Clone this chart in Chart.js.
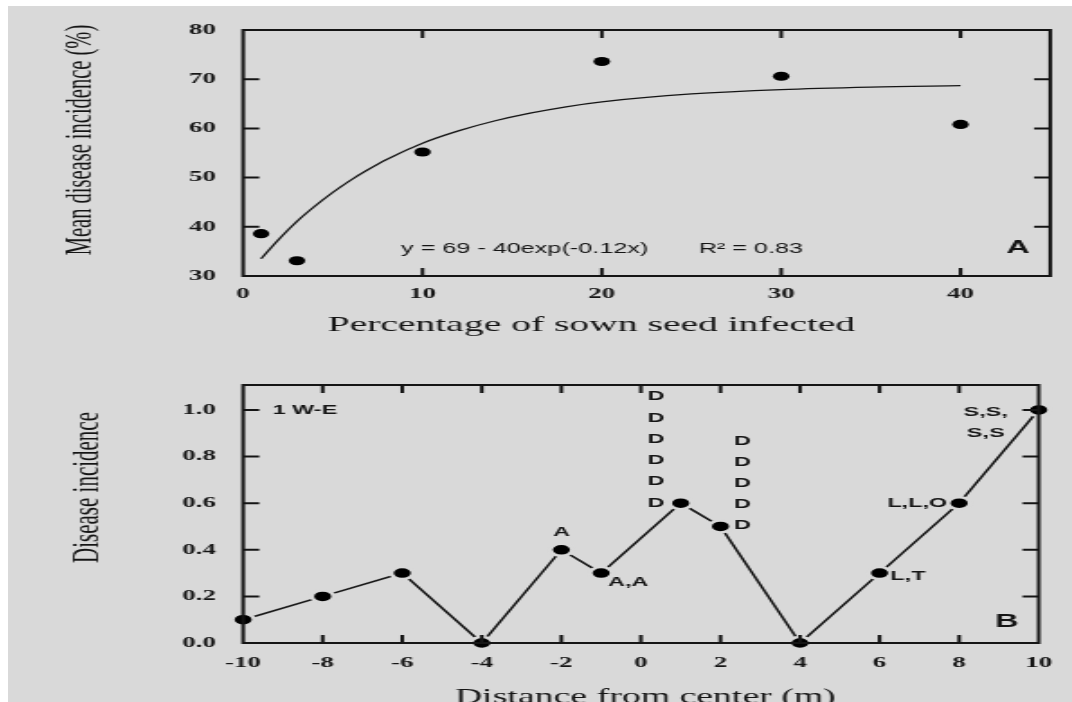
<!DOCTYPE html>
<html>
<head>
<meta charset="utf-8">
<title>Seed infection and disease incidence</title>
<script src="https://cdn.jsdelivr.net/npm/chart.js@4.4.1/dist/chart.umd.min.js"></script>
<style>
  html, body { margin: 0; padding: 0; background: #fff; }
  #sheet { position: absolute; left: 8px; top: 6px; width: 1064px; height: 696px; background: #d9d9d9; overflow: hidden; }
</style>
</head>
<body>
<div id="sheet">
  <!-- the figure is stretched sideways, so the canvases are drawn narrow and widened by css -->
  <canvas id="chartA" width="591" height="344" style="width:1064px;height:344px"></canvas>
  <canvas id="chartB" width="591" height="352" style="width:1064px;height:352px"></canvas>
</div>
<script>
// panel A: percentage of sown seed infected vs mean disease incidence
const seedInfected = [1, 3, 10, 20, 30, 40];
const meanIncidence = [38.6, 33.1, 55.2, 73.6, 70.6, 60.8];
// fitted curve
const fitX = [1, 2, 3, 4, 5, 6, 7, 8, 10, 12, 14, 16, 18, 20, 25, 30, 35, 40];
const fitY = [33.5, 37.5, 41.1, 44.2, 47.0, 49.5, 51.7, 53.7, 57.0, 59.5, 61.5, 63.1, 64.4, 65.4, 67.0, 67.9, 68.4, 68.7];
const ticksAX = [0, 10, 20, 30, 40];
const ticksAY = [30, 40, 50, 60, 70, 80];
const fitLabel = "y = 69 - 40exp(-0.12x)";
const r2Label = "R² = 0.83";

// panel B: disease incidence along transect 1 W-E
const distance = [-10, -8, -6, -4, -2, -1, 1, 2, 4, 6, 8, 10];
const incidence = [0.1, 0.2, 0.3, 0.0, 0.4, 0.3, 0.6, 0.5, 0.0, 0.3, 0.6, 1.0];
const ticksBX = [-10, -8, -6, -4, -2, 0, 2, 4, 6, 8, 10];
const ticksBY = [0, 0.2, 0.4, 0.6, 0.8, 1.0];
const transectLabel = "1 W-E";
// letters written beside some points (i = index into distance)
const pointNotes = [
  { i: 4, lines: ["A"], place: "above" },
  { i: 5, lines: ["A,A"], place: "belowRight" },
  { i: 6, lines: ["D", "D", "D", "D", "D", "D"], place: "stackLeft" },
  { i: 7, lines: ["D", "D", "D", "D", "D"], place: "stackRight" },
  { i: 9, lines: ["L,T"], place: "right" },
  { i: 10, lines: ["L,L,O"], place: "left" },
  { i: 11, lines: ["S,S,", "S,S"], place: "leftDown" },
];

const SERIF = "'Liberation Serif', 'Times New Roman', serif";
const SANS = "'Liberation Sans', Arial, sans-serif";
const INK = "#151515";
const BG = "#d9d9d9";

// offsets in canvas units (x is stretched 1.8x on screen)
const notePlace = {
  above:      { dx: 0,     dy: -17, step: 0,    align: "center" },
  belowRight: { dx: 15,    dy: 9,   step: 0,    align: "center" },
  stackLeft:  { dx: -13.6, dy: 0,   step: 21.3, align: "center", up: true },
  stackRight: { dx: 12.2,  dy: -1.5, step: 21,  align: "center", up: true },
  right:      { dx: 6,     dy: 3,   step: 0,    align: "left" },
  left:       { dx: -6.7,  dy: 0,   step: 0,    align: "right" },
  leftDown:   { dx: -29.4, dy: 2,   step: 21,   align: "center" },
};

function frameAndTicks(chart, yLen, xLen) {
  const { ctx, chartArea: a, scales: { x, y } } = chart;
  ctx.save();
  ctx.strokeStyle = INK;
  ctx.lineWidth = 2;
  ctx.strokeRect(a.left, a.top, a.right - a.left, a.bottom - a.top);
  ctx.beginPath();
  y.ticks.forEach(t => {
    const py = y.getPixelForValue(t.value);
    if (py <= a.top + 1 || py >= a.bottom - 1) return;
    ctx.moveTo(a.left, py); ctx.lineTo(a.left + yLen, py);
    ctx.moveTo(a.right, py); ctx.lineTo(a.right - yLen, py);
  });
  x.ticks.forEach(t => {
    const px = x.getPixelForValue(t.value);
    if (px <= a.left + 1 || px >= a.right - 1) return;
    ctx.moveTo(px, a.top); ctx.lineTo(px, a.top + xLen);
    ctx.moveTo(px, a.bottom); ctx.lineTo(px, a.bottom - xLen);
  });
  ctx.stroke();
  ctx.restore();
}

function axisTitles(chart, yTitle, xTitle) {
  const ctx = chart.ctx;
  ctx.save();
  ctx.fillStyle = INK;
  ctx.textAlign = "center";
  ctx.font = `${yTitle.size}px ${SERIF}`;
  ctx.textBaseline = "middle";
  ctx.translate(yTitle.x, yTitle.y);
  ctx.rotate(-Math.PI / 2);
  ctx.fillText(yTitle.text, 0, 0);
  ctx.restore();
  ctx.save();
  ctx.fillStyle = INK;
  ctx.textAlign = "center";
  ctx.textBaseline = "alphabetic";
  ctx.font = `${xTitle.size}px ${SERIF}`;
  ctx.fillText(xTitle.text, xTitle.x, xTitle.y);
  ctx.restore();
}

function panelLetter(chart, letter, up) {
  const { ctx, chartArea: a } = chart;
  ctx.save();
  ctx.fillStyle = INK;
  ctx.font = `bold 18px ${SANS}`;
  ctx.textAlign = "center";
  ctx.textBaseline = "middle";
  ctx.fillText(letter, a.right - 17.8, a.bottom - up);
  ctx.restore();
}

const panelA = {
  id: "panelA",
  afterDraw(chart) {
    const { ctx, scales: { x, y } } = chart;
    frameAndTicks(chart, 9, 8);
    ctx.save();
    ctx.fillStyle = INK;
    ctx.font = `14px ${SANS}`;
    ctx.textBaseline = "middle";
    ctx.textAlign = "left";
    ctx.fillText(fitLabel, x.getPixelForValue(8.8), y.getPixelForValue(35.5));
    ctx.fillText(r2Label, x.getPixelForValue(25.4), y.getPixelForValue(35.5));
    ctx.restore();
    panelLetter(chart, "A", 28);
    axisTitles(chart,
      { text: "Mean disease incidence (%)", size: 20.5, x: 41, y: 134 },
      { text: "Percentage of sown seed infected", size: 22, x: 324, y: 325 });
  }
};

const panelB = {
  id: "panelB",
  afterDraw(chart) {
    const { ctx, scales: { x, y } } = chart;
    frameAndTicks(chart, 9, 8);
    ctx.save();
    ctx.fillStyle = INK;
    ctx.font = `bold 13px ${SANS}`;
    ctx.textBaseline = "middle";
    ctx.textAlign = "left";
    ctx.fillText(transectLabel, x.getPixelForValue(-9.26), y.getPixelForValue(1.0));
    pointNotes.forEach(n => {
      const p = notePlace[n.place];
      const px = x.getPixelForValue(distance[n.i]) + p.dx;
      const py = y.getPixelForValue(incidence[n.i]) + p.dy;
      const start = p.up ? py - (n.lines.length - 1) * p.step : py;
      ctx.textAlign = p.align;
      n.lines.forEach((line, k) => ctx.fillText(line, px, start + k * p.step));
    });
    ctx.restore();
    panelLetter(chart, "B", 21);
    axisTitles(chart,
      { text: "Disease incidence", size: 21, x: 44, y: 137.5 },
      { text: "Distance from center (m)", size: 21, x: 354, y: 353 });
  }
};

function tickFont() {
  return { family: SERIF, size: 15, weight: "bold" };
}

new Chart(document.getElementById("chartA"), {
  type: "scatter",
  data: {
    datasets: [
      {
        data: seedInfected.map((v, k) => ({ x: v, y: meanIncidence[k] })),
        backgroundColor: "#000",
        borderWidth: 0,
        pointRadius: 4.6,
        clip: false,
      },
      {
        data: fitX.map((v, k) => ({ x: v, y: fitY[k] })),
        showLine: true,
        borderColor: INK,
        borderWidth: 1.3,
        pointRadius: 0,
        cubicInterpolationMode: "monotone",
        clip: false,
      },
    ],
  },
  options: {
    responsive: false,
    animation: false,
    events: [],
    layout: { padding: { left: 0, right: 12.1, top: 15, bottom: 0 } },
    plugins: { legend: { display: false }, tooltip: { enabled: false } },
    scales: {
      x: {
        type: "linear", min: 0, max: 45,
        grid: { display: false, drawTicks: false },
        border: { display: false },
        afterBuildTicks: s => { s.ticks = ticksAX.map(v => ({ value: v })); },
        afterFit: s => { s.height = 74; },
        ticks: { padding: 9, color: INK, font: tickFont(), maxRotation: 0, callback: v => String(v) },
      },
      y: {
        type: "linear", min: 30, max: 80,
        grid: { display: false, drawTicks: false },
        border: { display: false },
        afterBuildTicks: s => { s.ticks = ticksAY.map(v => ({ value: v })); },
        afterFit: s => { s.width = 130.6; },
        ticks: { padding: 15, color: INK, font: tickFont(), callback: v => String(v) },
      },
    },
  },
  plugins: [panelA],
});

new Chart(document.getElementById("chartB"), {
  type: "line",
  data: {
    datasets: [
      {
        data: distance.map((v, k) => ({ x: v, y: incidence[k] })),
        borderColor: INK,
        borderWidth: 1.6,
        backgroundColor: "#000",
        pointBackgroundColor: "#000",
        pointBorderColor: BG,
        pointBorderWidth: 2.5,
        pointRadius: 6,
        tension: 0,
        clip: false,
      },
    ],
  },
  options: {
    responsive: false,
    animation: false,
    events: [],
    layout: { padding: { left: 0, right: 12.1, top: 35, bottom: 0 } },
    plugins: { legend: { display: false }, tooltip: { enabled: false } },
    scales: {
      x: {
        type: "linear", min: -10, max: 10,
        grid: { display: false, drawTicks: false },
        border: { display: false },
        afterBuildTicks: s => { s.ticks = ticksBX.map(v => ({ value: v })); },
        afterFit: s => { s.height = 59; },
        ticks: { padding: 11, color: INK, font: tickFont(), maxRotation: 0, callback: v => String(v) },
      },
      y: {
        type: "linear", min: 0, max: 1.107,
        grid: { display: false, drawTicks: false },
        border: { display: false },
        afterBuildTicks: s => { s.ticks = ticksBY.map(v => ({ value: v })); },
        afterFit: s => { s.width = 130.6; },
        ticks: { padding: 15, color: INK, font: tickFont(), callback: v => v.toFixed(1) },
      },
    },
  },
  plugins: [panelB],
});
</script>
</body>
</html>
